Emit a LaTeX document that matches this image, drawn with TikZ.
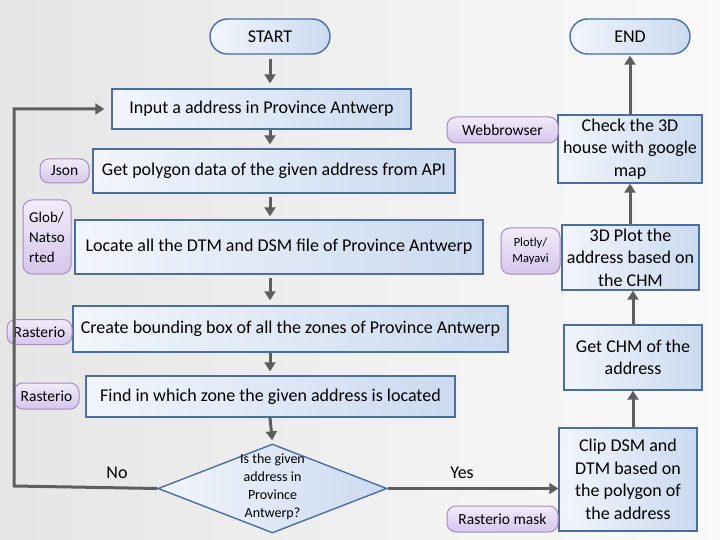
\documentclass[tikz,border=0pt]{standalone}
\usepackage{fontspec}
\setmainfont{Carlito}
\usetikzlibrary{arrows.meta,shapes.misc,shapes.geometric}
\definecolor{boxborder}{HTML}{4A6DA3}
\definecolor{boxlight}{HTML}{F2F5FB}
\definecolor{boxdark}{HTML}{CBDAEF}
\definecolor{pillborder}{HTML}{A48CC6}
\definecolor{pilllight}{HTML}{F1ECF9}
\definecolor{pilldark}{HTML}{D5C5EB}
\definecolor{arrowgray}{HTML}{5E5E5E}
\tikzset{
  flowbox/.style={draw=boxborder, line width=1.4pt, left color=boxlight, right color=boxdark,
    inner sep=0pt, align=center, font=\fontsize{18}{22.5}\selectfont},
  terminal/.style={flowbox, rounded rectangle, minimum width=120pt, minimum height=35pt},
  pill/.style={draw=pillborder, line width=1pt, top color=pilllight, bottom color=pilldark,
    rounded corners=9pt, inner sep=0pt, align=center, font=\fontsize{15.5}{20}\selectfont},
  decision/.style={draw=boxborder, line width=1.4pt, left color=boxlight, right color=boxdark,
    diamond, inner sep=0pt, minimum width=229pt, minimum height=89pt},
  arr/.style={draw=arrowgray, line width=3pt, -{Triangle[length=9pt,width=11pt]}},
  lbl/.style={font=\fontsize{18}{20}\selectfont, text=black}
}
\begin{document}
\begin{tikzpicture}[x=1pt,y=-1pt]
\shade[left color=black!10, right color=black!2] (0,0) rectangle (720,540);
\useasboundingbox (0,0) rectangle (720,540);

% terminals
\node[terminal] (start) at (270,36.5) {START};
\node[terminal] (end) at (630,36.5) {END};

% left column
\node[flowbox, minimum width=299pt, minimum height=40pt] (input) at (261.5,109) {Input a address in Province Antwerp};
\node[flowbox, minimum width=362pt, minimum height=44pt] (poly) at (274,171) {Get polygon data of the given address from API};
\node[flowbox, minimum width=408pt, minimum height=54pt] (locate) at (279,247) {Locate all the DTM and DSM file of Province Antwerp};
\node[flowbox, minimum width=435pt, minimum height=46pt] (bbox) at (290.5,329) {Create bounding box of all the zones of Province Antwerp};
\node[flowbox, minimum width=369pt, minimum height=41pt] (find) at (270.5,396.5) {Find in which zone the given address is located};
\node[decision] (dec) at (272.5,488.5) {};
\node[align=center, font=\fontsize{14}{18}\selectfont] (dectext) at (272.5,487) {Is the given\\address in\\Province\\Antwerp?};

% right column
\node[flowbox, minimum width=138pt, minimum height=103pt] (clip) at (628,479.5) {Clip DSM and\\DTM based on\\the polygon of\\the address};
\node[flowbox, minimum width=138pt, minimum height=65pt] (chm) at (633,357.5) {Get CHM of the\\address};
\node[flowbox, minimum width=137pt, minimum height=65pt] (plot) at (630.5,257.5) {3D Plot the\\address based on\\the CHM};
\node[flowbox, minimum width=144pt, minimum height=68pt] (check) at (630,149) {Check the 3D\\house with google\\map};

% library pills
\node[pill, minimum width=49pt, minimum height=24pt] (json) at (64.5,171) {Json};
\node[pill, minimum width=48pt, minimum height=74pt, align=left, font=\fontsize{15}{20}\selectfont] (glob) at (47,237) {Glob/\\Natso\\rted};
\node[pill, minimum width=65pt, minimum height=25pt] (rast1) at (39.5,332) {Rasterio};
\node[pill, minimum width=65pt, minimum height=26pt] (rast2) at (46.5,396) {Rasterio};
\node[pill, minimum width=111pt, minimum height=26pt] (web) at (502.5,130) {Webbrowser};
\node[pill, minimum width=59pt, minimum height=46pt, font=\fontsize{12.5}{16}\selectfont] (plotly) at (530.5,251) {Plotly/\\Mayavi};
\node[pill, minimum width=111pt, minimum height=26pt] (mask) at (502.5,519) {Rasterio mask};

% connectors
\draw[arr, shorten <=4pt, shorten >=5pt] (start.south) -- (start.south |- input.north);
\draw[arr, shorten >=4pt] (start.south |- input.south) -- (start.south |- poly.north);
\draw[arr, shorten <=3pt, shorten >=3pt] (start.south |- poly.south) -- (start.south |- locate.north);
\draw[arr, shorten <=3pt, shorten >=5pt] (start.south |- locate.south) -- (start.south |- bbox.north);
\draw[arr, shorten >=4pt] (start.south |- bbox.south) -- (start.south |- find.north);
\draw[arr, shorten >=3pt] (start.south |- find.south) -- (dec.north);

\coordinate (loop) at (14,486);
\draw[arr, shorten >=7pt] (dec.west) -- (loop) |- (input.west);
\node[lbl] (no) at (117,473) {No};

\draw[arr] (dec.east) -- (dec.east -| clip.west);
\node[lbl] (yes) at (462,473) {Yes};

\draw[arr] (chm.south |- clip.north) -- (chm.south);
\draw[arr] (chm.north) -- (chm.north |- plot.south);
\draw[arr] (check.south |- plot.north) -- (check.south);
\draw[arr, shorten >=1pt] (check.north) -- (end.south);
\end{tikzpicture}
\end{document}
